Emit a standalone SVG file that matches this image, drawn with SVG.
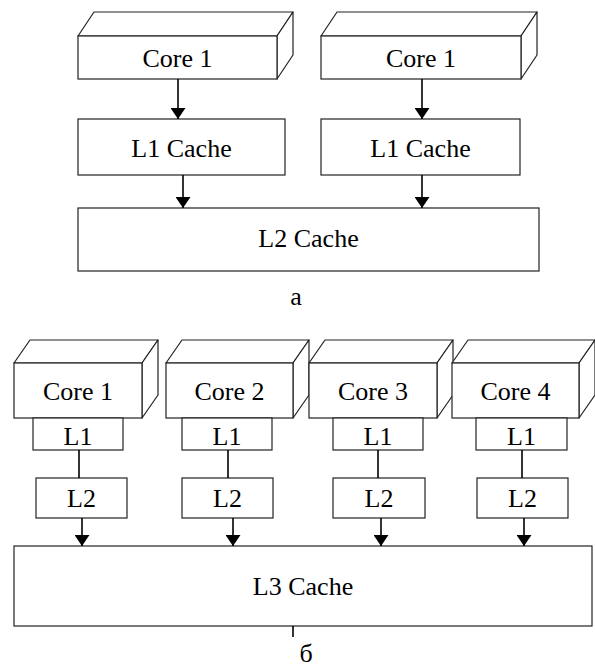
<svg xmlns="http://www.w3.org/2000/svg" width="595" height="669" viewBox="0 0 595 669">
  <defs>
    <style>
      .box { fill: #fff; stroke: #222; stroke-width: 1.2; }
      .face { fill: #fff; stroke: #222; stroke-width: 1.2; stroke-linejoin: round; }
      .wire { stroke: #000; stroke-width: 1.6; fill: none; }
      .arrow { stroke: #000; stroke-width: 1.6; fill: none; marker-end: url(#head); }
    </style>
    <marker id="head" markerUnits="userSpaceOnUse" markerWidth="11" markerHeight="15" viewBox="0 0 11 15" refX="11" refY="7.5" orient="auto">
      <path d="M0,0 L11,7.5 L0,15 Z" fill="#000"/>
    </marker>
  </defs>

  <rect width="595" height="669" fill="#fff"/>

  <g font-family="Liberation Serif, DejaVu Serif, serif" font-size="26" text-anchor="middle" fill="#000">
  <!-- (a) two cores, private L1, shared L2 -->
  <g id="a-core-left">
    <polygon class="face" points="78,36 94,12 293,12 277,36"/>
    <polygon class="face" points="277,36 293,12 293,55 277,79"/>
    <rect class="box" x="78" y="36" width="199" height="43"/>
    <text x="177.5" y="67">Core 1</text>
  </g>
  <g id="a-core-right">
    <polygon class="face" points="321,36 337,12 537,12 521,36"/>
    <polygon class="face" points="521,36 537,12 537,55 521,79"/>
    <rect class="box" x="321" y="36" width="200" height="43"/>
    <text x="421" y="67">Core 1</text>
  </g>
  <g id="a-l1-left">
    <rect class="box" x="78" y="119" width="207" height="56"/>
    <text x="181.5" y="157">L1 Cache</text>
  </g>
  <g id="a-l1-right">
    <rect class="box" x="321" y="119" width="199" height="56"/>
    <text x="420.5" y="157">L1 Cache</text>
  </g>
  <g id="a-l2">
    <rect class="box" x="78" y="208" width="461" height="63"/>
    <text x="308.5" y="247">L2 Cache</text>
  </g>
  <text id="caption-a" x="296" y="305">а</text>

  <!-- (b) four cores, private L1 and L2, shared L3 -->
  <g id="b-core-1">
    <polygon class="face" points="14,363 30,340 158,340 142,363"/>
    <polygon class="face" points="142,363 158,340 158,395 142,418"/>
    <rect class="box" x="14" y="363" width="128" height="55"/>
    <text x="78" y="400">Core 1</text>
  </g>
  <g id="b-core-2">
    <polygon class="face" points="166,363 182,340 309,340 293,363"/>
    <polygon class="face" points="293,363 309,340 309,395 293,418"/>
    <rect class="box" x="166" y="363" width="127" height="55"/>
    <text x="229.5" y="400">Core 2</text>
  </g>
  <g id="b-core-3">
    <polygon class="face" points="309,363 325,340 453,340 437,363"/>
    <polygon class="face" points="437,363 453,340 453,395 437,418"/>
    <rect class="box" x="309" y="363" width="128" height="55"/>
    <text x="373" y="400">Core 3</text>
  </g>
  <g id="b-core-4">
    <polygon class="face" points="452,363 468,340 595,340 579,363"/>
    <polygon class="face" points="579,363 595,340 595,395 579,418"/>
    <rect class="box" x="452" y="363" width="127" height="55"/>
    <text x="515.5" y="400">Core 4</text>
  </g>

  <g id="b-l1-1"><rect class="box" x="33" y="418" width="90" height="32"/><text x="78" y="445">L1</text></g>
  <g id="b-l1-2"><rect class="box" x="182" y="418" width="90" height="32"/><text x="227" y="445">L1</text></g>
  <g id="b-l1-3"><rect class="box" x="333" y="418" width="90" height="32"/><text x="378" y="445">L1</text></g>
  <g id="b-l1-4"><rect class="box" x="476" y="418" width="91" height="32"/><text x="521.5" y="445">L1</text></g>

  <g id="b-l2-1"><rect class="box" x="36" y="478" width="91" height="40"/><text x="81.5" y="507">L2</text></g>
  <g id="b-l2-2"><rect class="box" x="182" y="478" width="91" height="40"/><text x="227.5" y="507">L2</text></g>
  <g id="b-l2-3"><rect class="box" x="333" y="478" width="92" height="40"/><text x="379" y="507">L2</text></g>
  <g id="b-l2-4"><rect class="box" x="477" y="478" width="91" height="40"/><text x="522.5" y="507">L2</text></g>

  <g id="b-l3">
    <rect class="box" x="14" y="546" width="578" height="80"/>
    <text x="303" y="595">L3 Cache</text>
  </g>
  <text id="caption-b" x="306" y="662">б</text>
  </g>

  <!-- connectors -->
  <g id="connectors">
    <line class="arrow" x1="178" y1="79" x2="178" y2="119"/>
    <line class="arrow" x1="422" y1="79" x2="422" y2="119"/>
    <line class="arrow" x1="183" y1="175" x2="183" y2="208"/>
    <line class="arrow" x1="422" y1="175" x2="422" y2="208"/>

    <line class="wire" x1="79" y1="450" x2="79" y2="478"/>
    <line class="wire" x1="228" y1="450" x2="228" y2="478"/>
    <line class="wire" x1="378" y1="450" x2="378" y2="478"/>
    <line class="wire" x1="522" y1="450" x2="522" y2="478"/>

    <line class="arrow" x1="82" y1="518" x2="82" y2="546"/>
    <line class="arrow" x1="233" y1="518" x2="233" y2="546"/>
    <line class="arrow" x1="381" y1="518" x2="381" y2="546"/>
    <line class="arrow" x1="524" y1="518" x2="524" y2="546"/>

    <line class="wire" x1="293" y1="626" x2="293" y2="637"/>
  </g>
</svg>
